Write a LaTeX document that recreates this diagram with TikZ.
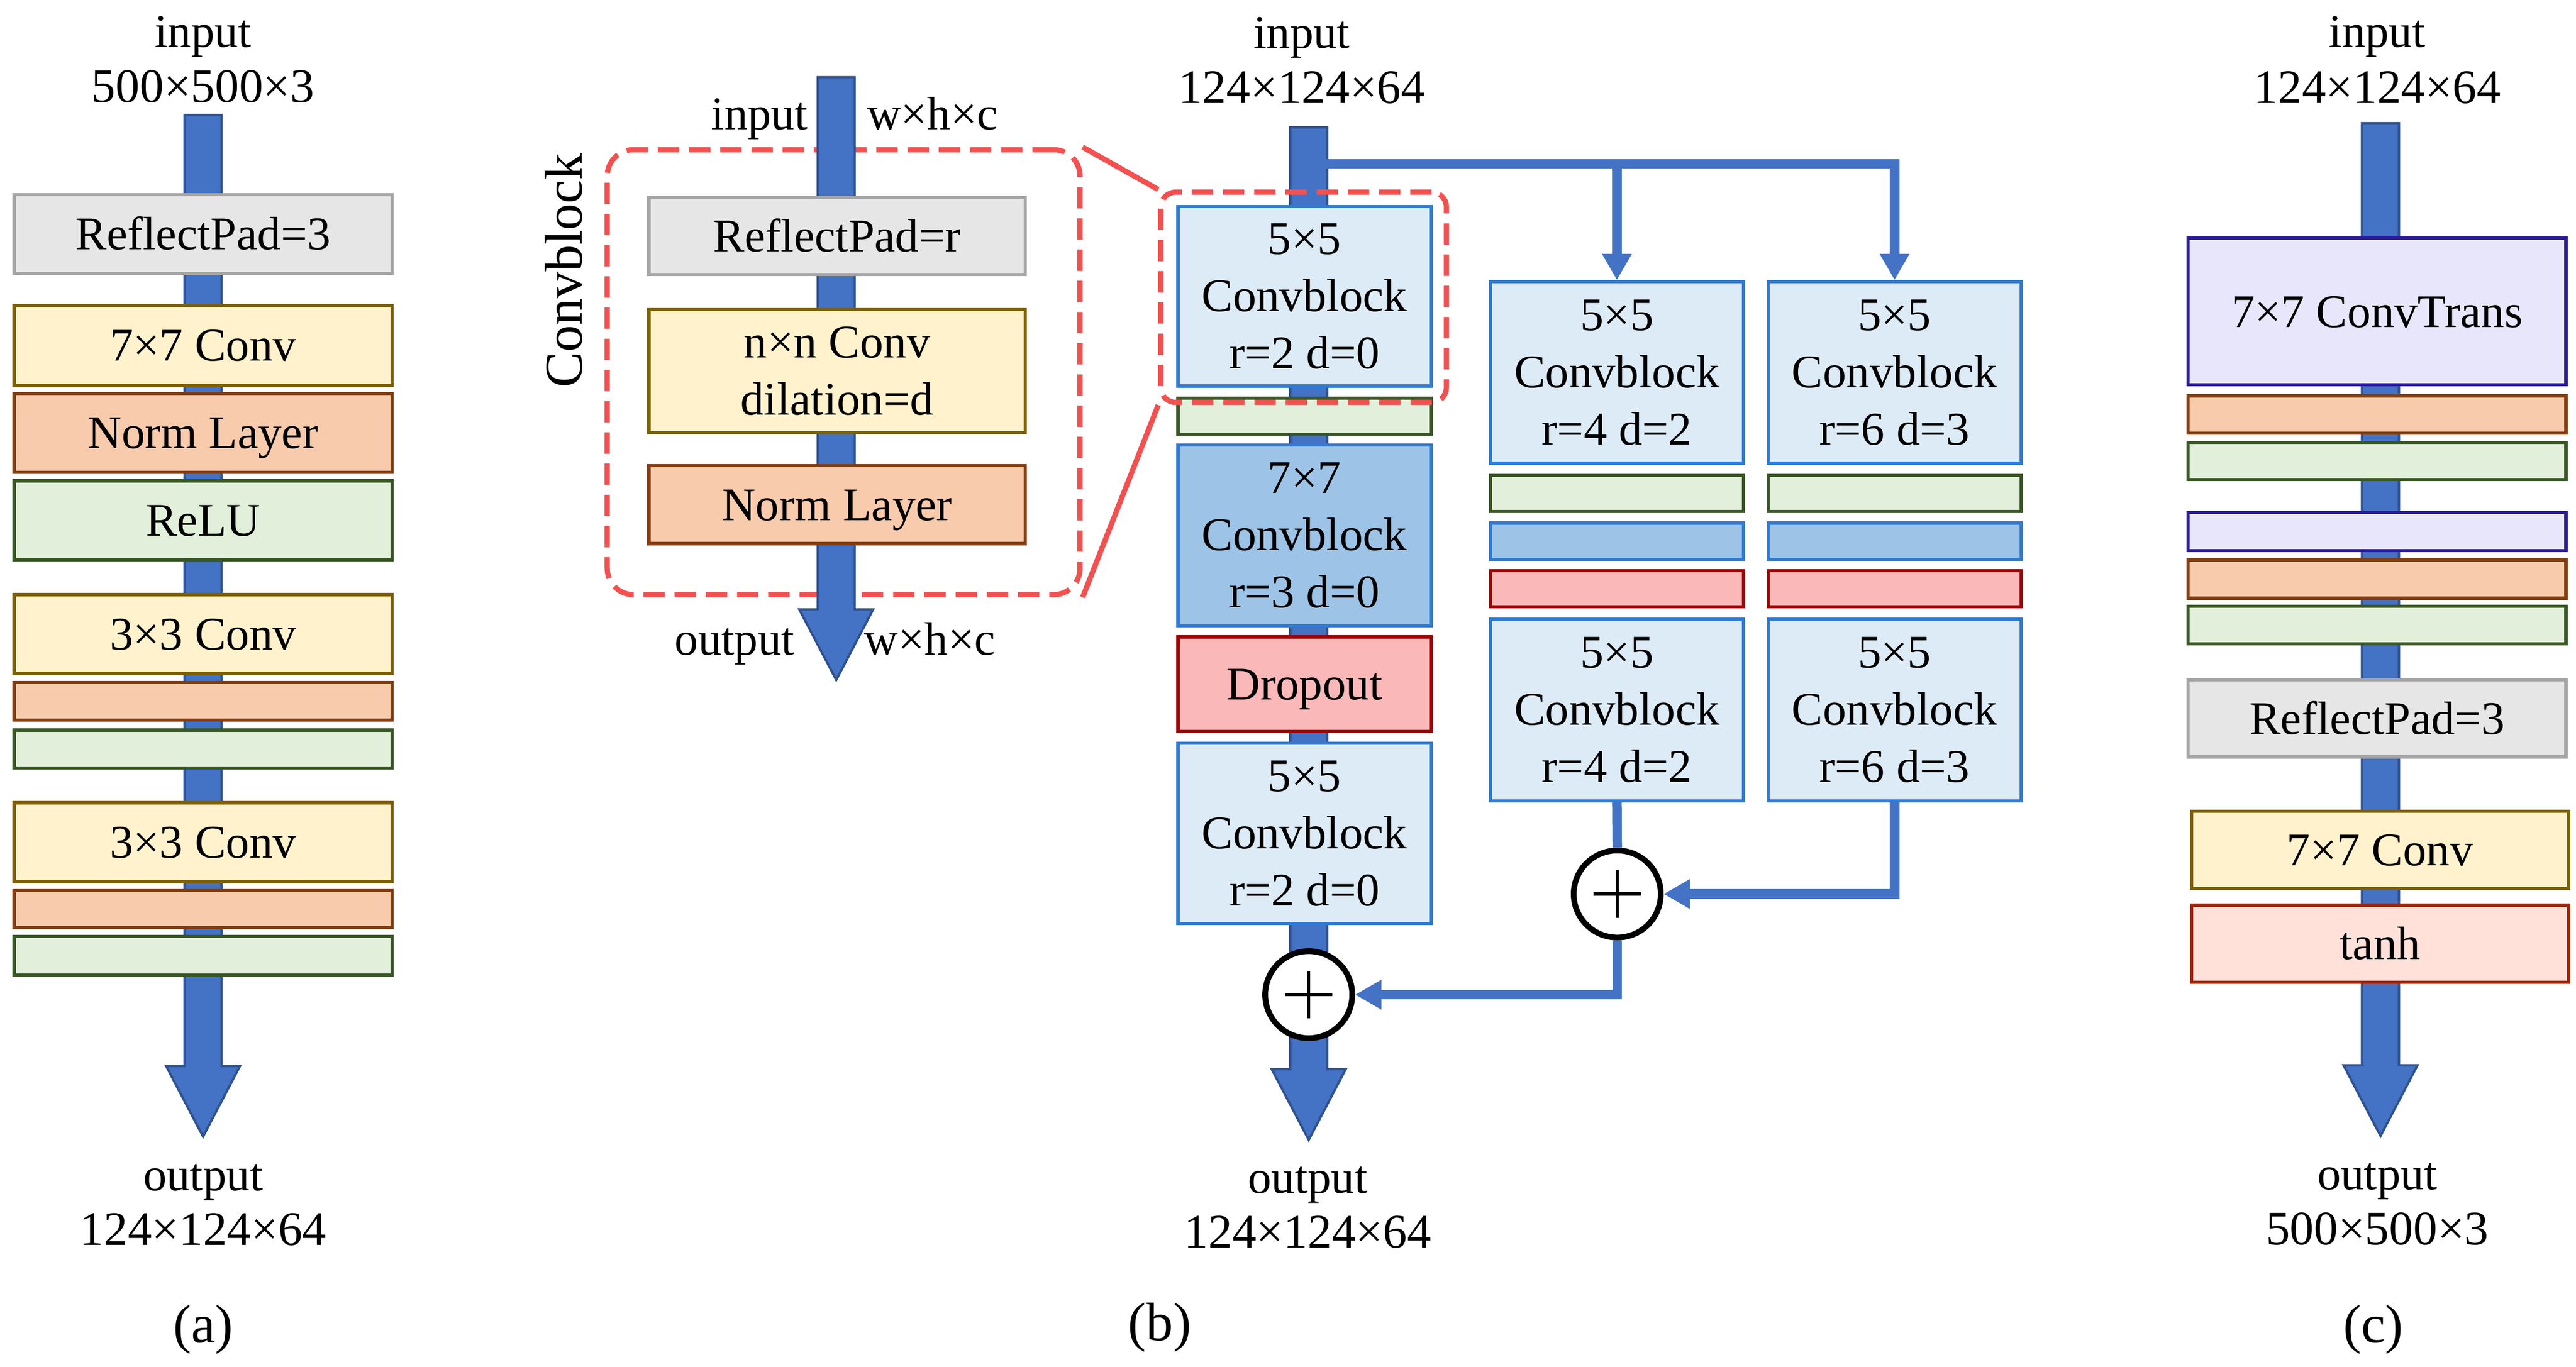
\documentclass[tikz,border=0pt]{standalone}
\usepackage{fontspec}
\setmainfont{Liberation Serif}
\usetikzlibrary{arrows.meta}
\definecolor{padfill}{HTML}{E7E6E6}\definecolor{paddraw}{HTML}{A5A5A5}
\definecolor{convfill}{HTML}{FFF2CC}\definecolor{convdraw}{HTML}{7F6000}
\definecolor{normfill}{HTML}{F8CBAD}\definecolor{normdraw}{HTML}{843C0C}
\definecolor{relufill}{HTML}{E2EFDA}\definecolor{reludraw}{HTML}{385723}
\definecolor{cbfill}{HTML}{DDEBF7}\definecolor{cbdraw}{HTML}{2E7BD6}
\definecolor{cbdfill}{HTML}{9DC3E6}
\definecolor{dropfill}{HTML}{FBB8B8}\definecolor{dropdraw}{HTML}{A00000}
\definecolor{transfill}{HTML}{E8E6FA}\definecolor{transdraw}{HTML}{2A1A9C}
\definecolor{tanhfill}{HTML}{FFE1DA}\definecolor{tanhdraw}{HTML}{A32205}
\definecolor{arrfill}{HTML}{4472C4}\definecolor{arrdraw}{HTML}{2F528F}
\definecolor{dashred}{HTML}{F55050}
\newcommand\myFatArrow[4]{%
  \filldraw[fatarr] (#1-11.25,#2) -- (#1+11.25,#2) -- (#1+11.25,#3) -- (#1+22.5,#3)
    -- (#1,#4) -- (#1-22.5,#3) -- (#1-11.25,#3) -- cycle;}
\begin{document}
\begin{tikzpicture}[x=1pt,y=-1pt,
  font=\fontsize{28.5}{34.8}\selectfont,
  box/.style={draw, line width=2pt, inner sep=0pt, align=center},
  one/.style={text height=19pt, text depth=0pt},
  wa/.style={minimum width=230pt},
  wm/.style={minimum width=154pt},
  padbox/.style={box, fill=padfill, draw=paddraw},
  convbox/.style={box, fill=convfill, draw=convdraw},
  normbox/.style={box, fill=normfill, draw=normdraw},
  relubox/.style={box, fill=relufill, draw=reludraw},
  cbbox/.style={box, fill=cbfill, draw=cbdraw},
  cbdark/.style={box, fill=cbdfill, draw=cbdraw},
  dropbox/.style={box, fill=dropfill, draw=dropdraw},
  transbox/.style={box, fill=transfill, draw=transdraw},
  tanhbox/.style={box, fill=tanhfill, draw=tanhdraw},
  fatarr/.style={fill=arrfill, draw=arrdraw, line width=1.4pt, line join=miter},
  lbl/.style={anchor=base, inner sep=0pt},
  dimlbl/.style={lbl, font=\fontsize{29.3}{34.8}\selectfont},
  caplbl/.style={lbl, font=\fontsize{33}{36}\selectfont},
  dashbox/.style={draw=dashred, line width=3.2pt, dash pattern=on 13pt off 6pt, inner sep=0pt},
  redline/.style={draw=dashred, line width=3.2pt},
  connline/.style={draw=arrfill, line width=5.8pt},
  tip/.style={-{Triangle[length=16pt,width=17pt]}},
  plusnode/.style={circle, draw=black, fill=white, line width=3.5pt, minimum size=53pt, inner sep=0pt},
  plusbar/.style={draw=black, line width=2pt}
]
\useasboundingbox (0,0) rectangle (1568,832);

% ---------- panel (a)
\myFatArrow{123.6}{70}{649}{692}
\node[padbox,one,wa,minimum height=48pt] (aPad) at (123.6,142.5) {ReflectPad=3};
\node[convbox,one,wa,minimum height=48.6pt] (aC7) at (123.6,210.3) {7×7 Conv};
\node[normbox,one,wa,minimum height=48pt] (aN1) at (123.6,263.5) {Norm Layer};
\node[relubox,one,wa,minimum height=48pt] (aR1) at (123.6,316.7) {ReLU};
\node[convbox,one,wa,minimum height=48pt] (aC3a) at (123.6,386) {3×3 Conv};
\node[normbox,wa,minimum height=23pt] (aN2) at (123.6,427) {};
\node[relubox,wa,minimum height=23pt] (aR2) at (123.6,456) {};
\node[convbox,one,wa,minimum height=48pt] (aC3b) at (123.6,512.7) {3×3 Conv};
\node[normbox,wa,minimum height=22.5pt] (aN3) at (123.6,553.5) {};
\node[relubox,wa,minimum height=23.7pt] (aR3) at (123.6,582) {};
\node[lbl] (aIn) at (123.6,28.7) {input};
\node[dimlbl] (aInD) at (123.6,62.3) {500×500×3};
\node[lbl] (aOut) at (123.6,725) {output};
\node[dimlbl] (aOutD) at (123.6,758) {124×124×64};
\node[caplbl] (aCap) at (123.7,817.5) {(a)};

% ---------- panel (b) left: convblock detail
\node[dashbox, rounded corners=16pt, minimum width=287.8pt, minimum height=270.9pt] (bBig) at (513.5,226.6) {};
\myFatArrow{509}{47}{371}{414}
\node[padbox,one,minimum width=229pt,minimum height=47pt] (bPad) at (509.5,143.6) {ReflectPad=r};
\node[convbox,minimum width=229pt,minimum height=75pt] (bConv) at (509.5,226) {n×n Conv\\dilation=d};
\node[normbox,one,minimum width=229pt,minimum height=47.5pt] (bNorm) at (509.5,307.3) {Norm Layer};
\node[lbl, anchor=base east] (bIn) at (491.8,79) {input};
\node[lbl, anchor=base west] (bInD) at (527.6,79) {w×h×c};
\node[lbl, anchor=base east] (bOut) at (483.8,398.7) {output};
\node[lbl, anchor=base west] (bOutD) at (526,398.7) {w×h×c};
\node[rotate=90, inner sep=0pt, font=\fontsize{32.5}{36}\selectfont] (bCB) at (343,164.6) {Convblock};

% ---------- panel (b) main
\myFatArrow{796.6}{77.5}{651}{694}
\node[cbbox,wm,minimum height=109.3pt] (m1) at (794,180.4) {5×5\\Convblock\\r=2 d=0};
\node[relubox,wm,minimum height=22pt] (mG) at (794,253.4) {};
\node[cbdark,wm,minimum height=110pt] (m2) at (794,326) {7×7\\Convblock\\r=3 d=0};
\node[dropbox,one,wm,minimum height=57.6pt] (mD) at (794,416.6) {Dropout};
\node[cbbox,wm,minimum height=109.7pt] (m3) at (794,507.4) {5×5\\Convblock\\r=2 d=0};

\node[cbbox,wm,minimum height=110.5pt] (r1a) at (984.2,226.8) {5×5\\Convblock\\r=4 d=2};
\node[relubox,wm,minimum height=22pt] (r1g) at (984.2,300.4) {};
\node[cbdark,wm,minimum height=22pt] (r1b) at (984.2,329.5) {};
\node[dropbox,wm,minimum height=22pt] (r1d) at (984.2,358.5) {};
\node[cbbox,wm,minimum height=110.7pt] (r1c) at (984.2,432.2) {5×5\\Convblock\\r=4 d=2};

\node[cbbox,wm,minimum height=110.5pt] (r2a) at (1153.2,226.8) {5×5\\Convblock\\r=6 d=3};
\node[relubox,wm,minimum height=22pt] (r2g) at (1153.2,300.4) {};
\node[cbdark,wm,minimum height=22pt] (r2b) at (1153.2,329.5) {};
\node[dropbox,wm,minimum height=22pt] (r2d) at (1153.2,358.5) {};
\node[cbbox,wm,minimum height=110.7pt] (r2c) at (1153.2,432.2) {5×5\\Convblock\\r=6 d=3};

\node[plusnode] (p1) at (796.6,605.6) {};
\node[plusnode] (p2) at (984.4,544.3) {};
\draw[plusbar] ([xshift=-14.5pt]p1.center) -- ([xshift=14.5pt]p1.center);
\draw[plusbar] ([yshift=-14.5pt]p1.center) -- ([yshift=14.5pt]p1.center);
\draw[plusbar] ([xshift=-14.5pt]p2.center) -- ([xshift=14.5pt]p2.center);
\draw[plusbar] ([yshift=-14.5pt]p2.center) -- ([yshift=14.5pt]p2.center);

\coordinate (br0) at (805,99.7);
\draw[connline, tip] (br0) -| (r2a.north);
\draw[connline, tip] (br0) -| (r1a.north);
\draw[connline] (r1c.south) -- (p2.north);
\draw[connline, tip] (r2c.south) |- (p2.east);
\draw[connline, tip] (p2.south) |- (p1.east);

\node[dashbox, rounded corners=9pt, minimum width=173.8pt, minimum height=128pt] (bSmall) at (793.5,181) {};
\draw[redline] (bBig.north east) -- (bSmall.north west);
\draw[redline] (bBig.south east) -- (bSmall.south west);

\node[lbl] (mIn) at (792.4,29.2) {input};
\node[dimlbl] (mInD) at (792.4,63) {124×124×64};
\node[lbl] (mOut) at (796,726.3) {output};
\node[dimlbl] (mOutD) at (796,759.8) {124×124×64};
\node[caplbl] (bCap) at (706,816) {(b)};

% ---------- panel (c)
\myFatArrow{1449}{75}{648.6}{691.6}
\node[transbox,one,wa,minimum height=89.3pt] (cT) at (1446.9,189.7) {7×7 ConvTrans};
\node[normbox,wa,minimum height=22.7pt] (cN1) at (1446.9,252.3) {};
\node[relubox,wa,minimum height=22.6pt] (cR1) at (1446.9,280.7) {};
\node[transbox,wa,minimum height=23.3pt] (cT2) at (1446.9,323.6) {};
\node[normbox,wa,minimum height=23.2pt] (cN2) at (1446.9,352.6) {};
\node[relubox,wa,minimum height=22.8pt] (cR2) at (1446.9,380.6) {};
\node[padbox,one,wa,minimum height=46.8pt] (cPad) at (1446.9,437.4) {ReflectPad=3};
\node[convbox,one,minimum width=229.5pt,minimum height=47pt] (cC7) at (1448.7,517.5) {7×7 Conv};
\node[tanhbox,one,minimum width=229.5pt,minimum height=46.8pt] (cTanh) at (1448.7,574.6) {tanh};
\node[lbl] (cIn) at (1447,28.7) {input};
\node[dimlbl] (cInD) at (1447,63) {124×124×64};
\node[lbl] (cOut) at (1447,724.2) {output};
\node[dimlbl] (cOutD) at (1447,757.7) {500×500×3};
\node[caplbl] (cCap) at (1444.6,817.5) {(c)};
\end{tikzpicture}
\end{document}
